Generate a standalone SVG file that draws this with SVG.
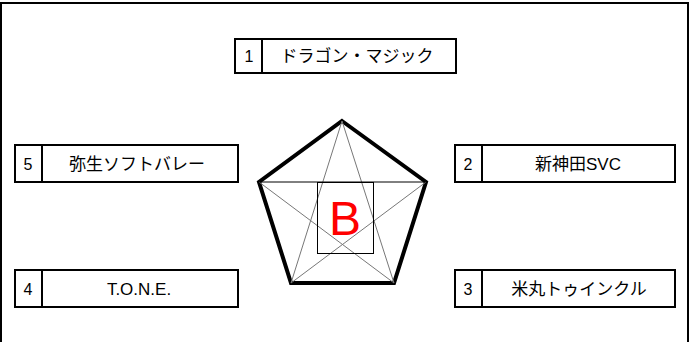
<svg xmlns="http://www.w3.org/2000/svg" width="690" height="342" viewBox="0 0 690 342">
<style>
.box{fill:#fff;stroke:#000;stroke-width:2}
.div{stroke:#000;stroke-width:2}
.num{font-family:"Liberation Sans","Noto Sans CJK JP",sans-serif;font-size:16px;fill:#000;text-anchor:middle}
.lbl{font-family:"Liberation Sans","Noto Sans CJK JP",sans-serif;font-size:17px;fill:#000;text-anchor:middle}
</style>
<rect x="0" y="0" width="690" height="342" fill="#fff"/>
<path d="M1,350 V3 H688 V350" fill="none" stroke="#000" stroke-width="2"/>
<g id="node1">
<rect class="box" x="235" y="39" width="221" height="34"/>
<line class="div" x1="262" y1="39" x2="262" y2="73"/>
<text class="num" x="249" y="62">1</text>
<text class="lbl" x="357" y="62">ドラゴン・マジック</text>
</g>
<g id="node5">
<rect class="box" x="15" y="145" width="223" height="37"/>
<line class="div" x1="42" y1="145" x2="42" y2="182"/>
<text class="num" x="28" y="170">5</text>
<text class="lbl" x="137" y="170">弥生ソフトバレー</text>
</g>
<g id="node2">
<rect class="box" x="455" y="145" width="220" height="37"/>
<line class="div" x1="482" y1="145" x2="482" y2="182"/>
<text class="num" x="468" y="170">2</text>
<text class="lbl" x="578" y="170">新神田SVC</text>
</g>
<g id="node4">
<rect class="box" x="15" y="270" width="223" height="37"/>
<line class="div" x1="42" y1="270" x2="42" y2="307"/>
<text class="num" x="28" y="295">4</text>
<text class="lbl" x="139" y="295">T.O.N.E.</text>
</g>
<g id="node3">
<rect class="box" x="455" y="270" width="220" height="37"/>
<line class="div" x1="482" y1="270" x2="482" y2="307"/>
<text class="num" x="468" y="295">3</text>
<text class="lbl" x="579" y="295">米丸トゥインクル</text>
</g>
<g id="court">
<polygon points="342,121 426,182 394,283 291,283 259,182" fill="none" stroke="#000" stroke-width="4" stroke-linejoin="miter"/>
<g stroke="#777" stroke-width="1" fill="none">
<line x1="342" y1="121" x2="291" y2="283"/>
<line x1="342" y1="121" x2="394" y2="283"/>
<line x1="259" y1="182" x2="394" y2="283"/>
<line x1="426" y1="182" x2="291" y2="283"/>
</g>
<line x1="259" y1="182" x2="426" y2="182" stroke="#000" stroke-width="1"/>
<rect x="317.5" y="182.5" width="56" height="71" fill="none" stroke="#000" stroke-width="1"/>
<text x="345" y="235" font-family="'Liberation Sans',sans-serif" font-size="48" fill="#f00" text-anchor="middle">B</text>
</g>
</svg>
